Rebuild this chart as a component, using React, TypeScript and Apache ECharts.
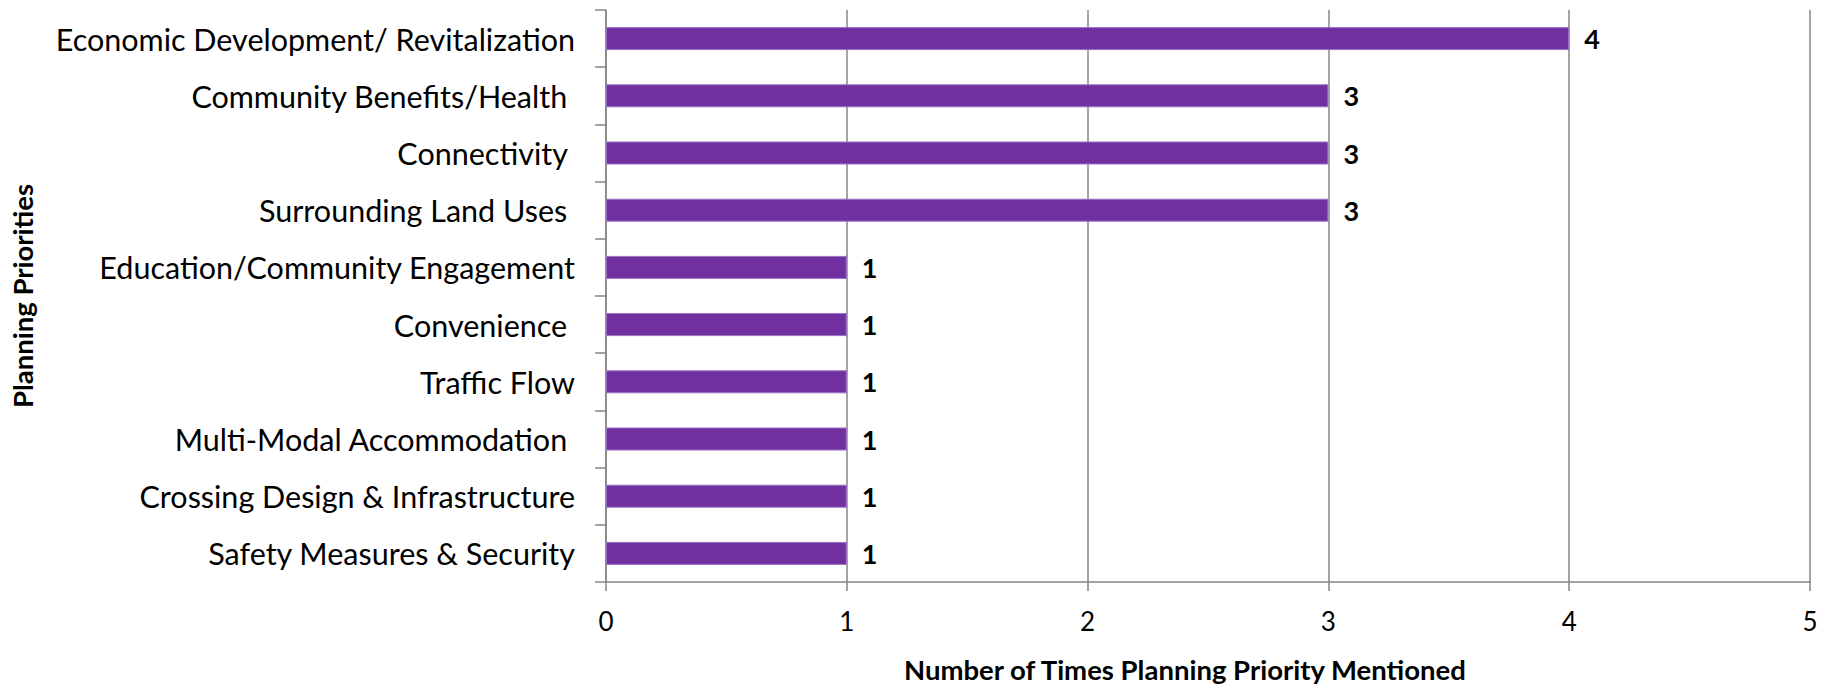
import React, { useEffect, useRef } from "react";
import * as echarts from "echarts";

// Planning priorities, listed top to bottom
const categories = [
  "Economic Development/ Revitalization",
  "Community Benefits/Health ",
  "Connectivity ",
  "Surrounding Land Uses ",
  "Education/Community Engagement",
  "Convenience ",
  "Traffic Flow",
  "Multi-Modal Accommodation ",
  "Crossing Design & Infrastructure",
  "Safety Measures & Security",
];

// Number of times each priority was mentioned
const mentions = [4, 3, 3, 3, 1, 1, 1, 1, 1, 1];

const xTickMin = 0;
const xTickMax = 5;
const xTickStep = 1;

const xTitle = "Number of Times Planning Priority Mentioned";
const yTitle = "Planning Priorities";

const FONT = "Lato, 'Open Sans', sans-serif";
const GRID_COLOR = "#868686";
const BAR_COLOR = "#7030A0";

export default function App() {
  const ref = useRef<HTMLDivElement>(null);

  useEffect(() => {
    document.body.style.margin = "0";
    if (!ref.current) return;
    const chart = echarts.init(ref.current, undefined, { renderer: "svg" });

    chart.setOption({
      animation: false,
      backgroundColor: "#ffffff",
      textStyle: { fontFamily: FONT },
      grid: { left: 606, right: 15, top: 10, bottom: 103, containLabel: false },
      xAxis: {
        type: "value",
        min: xTickMin,
        max: xTickMax,
        interval: xTickStep,
        axisLine: { show: true, lineStyle: { color: GRID_COLOR, width: 1.5 } },
        axisTick: { show: true, length: 9, lineStyle: { color: GRID_COLOR, width: 1.5 } },
        splitLine: { show: true, lineStyle: { color: GRID_COLOR, width: 1.5 } },
        axisLabel: {
          color: "#000000",
          fontFamily: FONT,
          fontSize: 26,
          margin: 26,
        },
      },
      yAxis: {
        type: "category",
        inverse: true,
        data: categories,
        axisLine: { show: true, lineStyle: { color: GRID_COLOR, width: 1.5 } },
        axisTick: { show: true, length: 11, lineStyle: { color: GRID_COLOR, width: 1.5 } },
        splitLine: { show: false },
        axisLabel: {
          color: "#000000",
          fontFamily: FONT,
          fontSize: 30.5,
          margin: 31,
        },
      },
      series: [
        {
          type: "bar",
          data: mentions,
          barWidth: 23,
          itemStyle: { color: BAR_COLOR, borderColor: "#9b70c4", borderWidth: 1 },
          label: {
            show: true,
            position: "right",
            distance: 15,
            color: "#000000",
            fontFamily: FONT,
            fontWeight: "bold",
            fontSize: 27,
          },
        },
      ],
      graphic: [
        {
          type: "text",
          left: 904,
          top: 655,
          style: {
            text: xTitle,
            fill: "#000000",
            font: `bold 27.5px ${FONT}`,
          },
        },
        {
          type: "text",
          x: 22,
          y: 296,
          rotation: Math.PI / 2,
          style: {
            text: yTitle,
            fill: "#000000",
            font: `bold 27.5px ${FONT}`,
            align: "center",
            verticalAlign: "middle",
          },
        },
      ],
    });

    return () => chart.dispose();
  }, []);

  return <div ref={ref} style={{ width: 1825, height: 685 }} />;
}
